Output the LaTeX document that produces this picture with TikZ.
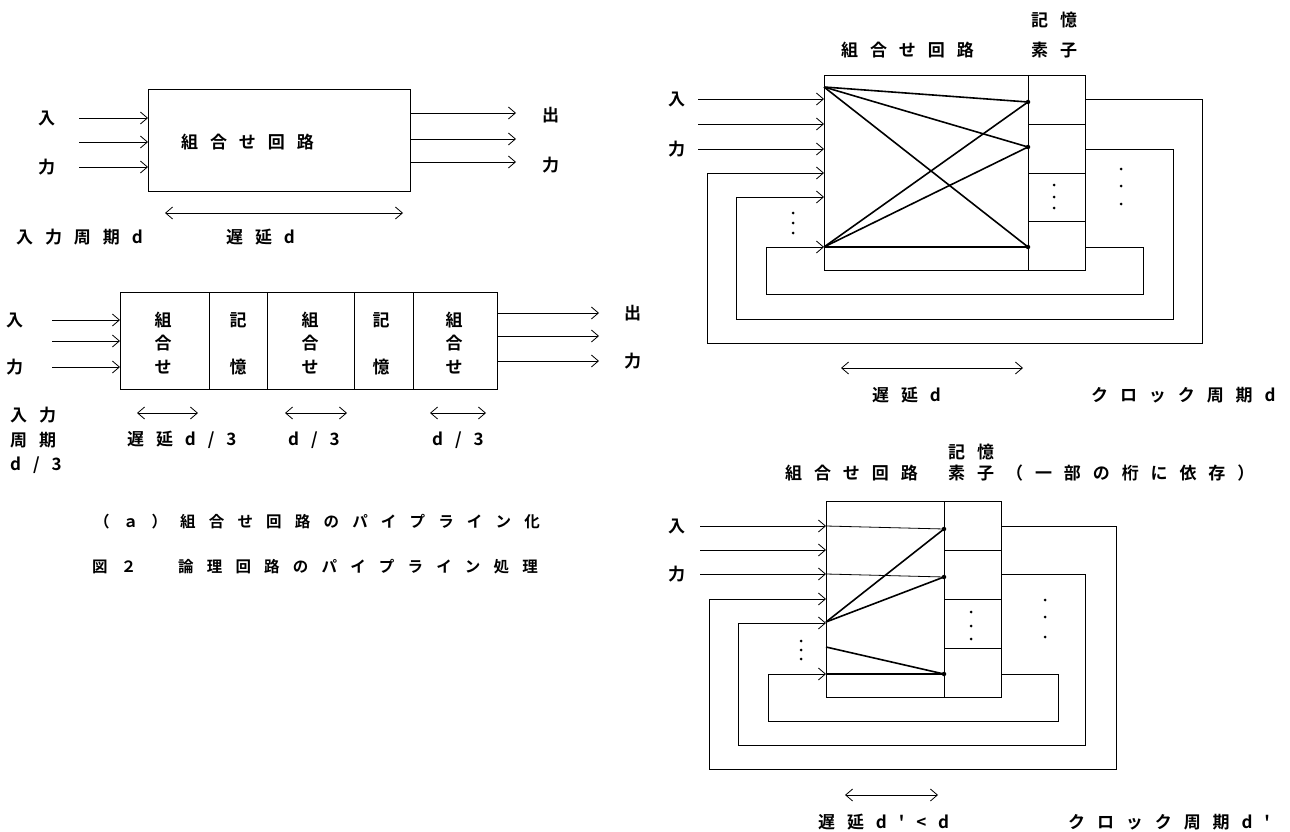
\documentclass[tikz,border=0pt]{standalone}
\usepackage{fontspec}
\usetikzlibrary{arrows.meta}
\newfontfamily\jpfont{Noto Sans CJK JP Bold}
\newfontfamily\jpwide[LetterSpace=70]{Noto Sans CJK JP Bold}
\newfontfamily\jpcap[LetterSpace=85]{Noto Sans CJK JP Bold}
\begin{document}
\begin{tikzpicture}[x=1pt,y=-1pt,
    txt/.style={font=\jpwide\fontsize{17}{20}\selectfont,inner sep=0pt,anchor=west},
    stack/.style={font=\jpfont\fontsize{17}{20}\selectfont,inner sep=0pt},
    captext/.style={font=\jpcap\fontsize{15.5}{20}\selectfont,inner sep=0pt,anchor=west},
    wire/.style={line width=0.8pt},
    sig/.style={wire,-{Straight Barb[length=7pt,width=12pt]}},
    twoway/.style={wire,{Straight Barb[length=7pt,width=12pt]}-{Straight Barb[length=7pt,width=12pt]}},
    link/.style={line width=1.6pt},
    joint/.style={circle,fill,inner sep=0pt,minimum size=4.5pt},
    ell/.style={circle,fill,inner sep=0pt,minimum size=3pt}]
  \useasboundingbox (0,0) rectangle (1290,832);

  % (a) one stage
  \draw [wire] (148,89) rectangle (410,191);
  \node [txt] (ina) at (38,118) {入};
  \node [txt] (inb) at (38,167) {力};
  \foreach \y in {118,142,167} \draw [sig] (79,\y) -- (148,\y);
  \node [txt] (comb) at (181,142) {組合せ回路};
  \foreach \y in {113,139,162} \draw [sig] (410,\y) -- (516,\y);
  \node [txt] (outa) at (542,115) {出};
  \node [txt] (outb) at (542,165) {力};
  \draw [twoway] (165,213) -- (403,213);
  \node [txt] (period) at (16,237) {入力周期d};
  \node [txt] (delay) at (226,237) {遅延d};

  % (a) pipelined
  \draw [wire] (120,292) rectangle (497,389);
  \foreach \x in {209,267,354,413} \draw [wire] (\x,292) -- (\x,389);
  \node [txt] (pina) at (6,320) {入};
  \node [txt] (pinb) at (6,367) {力};
  \foreach \y in {320,341,367} \draw [sig] (52,\y) -- (120,\y);
  \foreach \x/\n in {163/1,310/2,454/3} {
    \node [stack] (cba\n) at (\x,320) {組};
    \node [stack] (cbb\n) at (\x,343) {合};
    \node [stack] (cbc\n) at (\x,367) {せ};
  }
  \foreach \x/\n in {238/1,381/2} {
    \node [stack] (mema\n) at (\x,320) {記};
    \node [stack] (memb\n) at (\x,367) {憶};
  }
  \foreach \y in {313,336,361} \draw [sig] (497,\y) -- (599,\y);
  \node [txt] (pouta) at (624,313) {出};
  \node [txt] (poutb) at (624,361) {力};
  \draw [twoway] (137,413) -- (198,413);
  \draw [twoway] (285,413) -- (347,413);
  \draw [twoway] (430,413) -- (486,413);
  \node [txt] (pdel1) at (127,440) {遅延d/3};
  \node [txt] (pdel2) at (288,440) {d/3};
  \node [txt] (pdel3) at (432,440) {d/3};
  \node [txt] (pper1) at (10,415) {入力};
  \node [txt] (pper2) at (10,440) {周期};
  \node [txt] (pper3) at (10,465) {d/3};

  \node [captext] (capa) at (94,522) {（ａ）組合せ回路のパイプライン化};
  \node [captext] (capb) at (92,567) {図２　論理回路のパイプライン処理};

  % (b) full feedback
  \node [txt] (memt) at (1031,20) {記憶};
  \node [txt] (combt) at (841,50) {組合せ回路};
  \node [txt] (elemt) at (1031,50) {素子};
  \draw [wire] (824,75) rectangle (1085,270);
  \draw [wire] (1028,75) -- (1028,270);
  \foreach \y in {124,173,221} \draw [wire] (1028,\y) -- (1085,\y);
  \node [txt] (fina) at (668,99) {入};
  \node [txt] (finb) at (668,149) {力};
  \foreach \y in {99,124,149} \draw [sig] (698,\y) -- (824,\y);
  \draw [sig] (1085,99) -- (1202,99) -- (1202,343) -- (707,343) -- (707,173) -- (824,173);
  \draw [sig] (1085,149) -- (1173,149) -- (1173,319) -- (736,319) -- (736,197) -- (824,197);
  \draw [sig] (1085,247) -- (1143,247) -- (1143,294) -- (766,294) -- (766,247) -- (824,247);
  \coordinate (fa) at (824,87);
  \coordinate (fb) at (824,247);
  \coordinate (fp1) at (1028,102);
  \coordinate (fp2) at (1028,147);
  \coordinate (fp3) at (1028,247);
  \foreach \s in {fa,fb} \foreach \t in {fp1,fp2,fp3} \draw [link] (\s) -- (\t);
  \foreach \t in {fp1,fp2,fp3} \node [joint] at (\t) {};
  \foreach \y in {213,223,233} \node [ell] at (793,\y) {};
  \foreach \y in {185,197,208} \node [ell] at (1054,\y) {};
  \foreach \y in {169,186,204} \node [ell] at (1121,\y) {};
  \draw [twoway] (841,368) -- (1023,368);
  \node [txt] (fdel) at (872,395) {遅延d};
  \node [txt] (fclk) at (1091,395) {クロック周期d};

  % (b) partial feedback
  \node [txt] (memu) at (948,452) {記憶};
  \node [txt] (combu) at (785,473) {組合せ回路};
  \node [txt] (elemu) at (948,473) {素子};
  \node [txt] (dep) at (1006,473) {（一部の桁に依存）};
  \draw [wire] (826,501) rectangle (1001,697);
  \draw [wire] (944,501) -- (944,697);
  \foreach \y in {550,599,648} \draw [wire] (944,\y) -- (1001,\y);
  \node [txt] (gina) at (668,526) {入};
  \node [txt] (ginb) at (668,574) {力};
  \foreach \y in {526,550,574} \draw [sig] (700,\y) -- (826,\y);
  \draw [sig] (1001,526) -- (1116,526) -- (1116,769) -- (709,769) -- (709,599) -- (826,599);
  \draw [sig] (1001,574) -- (1085,574) -- (1085,745) -- (738,745) -- (738,623) -- (826,623);
  \draw [sig] (1001,674) -- (1058,674) -- (1058,721) -- (768,721) -- (768,674) -- (826,674);
  \coordinate (ga) at (826,526);
  \coordinate (gb) at (826,574);
  \coordinate (gc) at (826,622);
  \coordinate (gd) at (826,647);
  \coordinate (ge) at (826,674);
  \coordinate (gp1) at (944,529);
  \coordinate (gp2) at (944,577);
  \coordinate (gp3) at (944,674);
  \draw [wire] (ga) -- (gp1);
  \draw [wire] (gb) -- (gp2);
  \draw [link] (gc) -- (gp1);
  \draw [link] (gc) -- (gp2);
  \draw [link] (gd) -- (gp3);
  \draw [link] (ge) -- (gp3);
  \foreach \t in {gp1,gp2,gp3} \node [joint] at (\t) {};
  \foreach \y in {641,650,659} \node [ell] at (801,\y) {};
  \foreach \y in {612,626,639} \node [ell] at (971,\y) {};
  \foreach \y in {600,617,637} \node [ell] at (1045,\y) {};
  \draw [twoway] (845,795) -- (938,795);
  \node [txt] (gdel) at (818,822) {遅延d'<d};
  \node [txt] (gclk) at (1068,822) {クロック周期d'};
\end{tikzpicture}
\end{document}
